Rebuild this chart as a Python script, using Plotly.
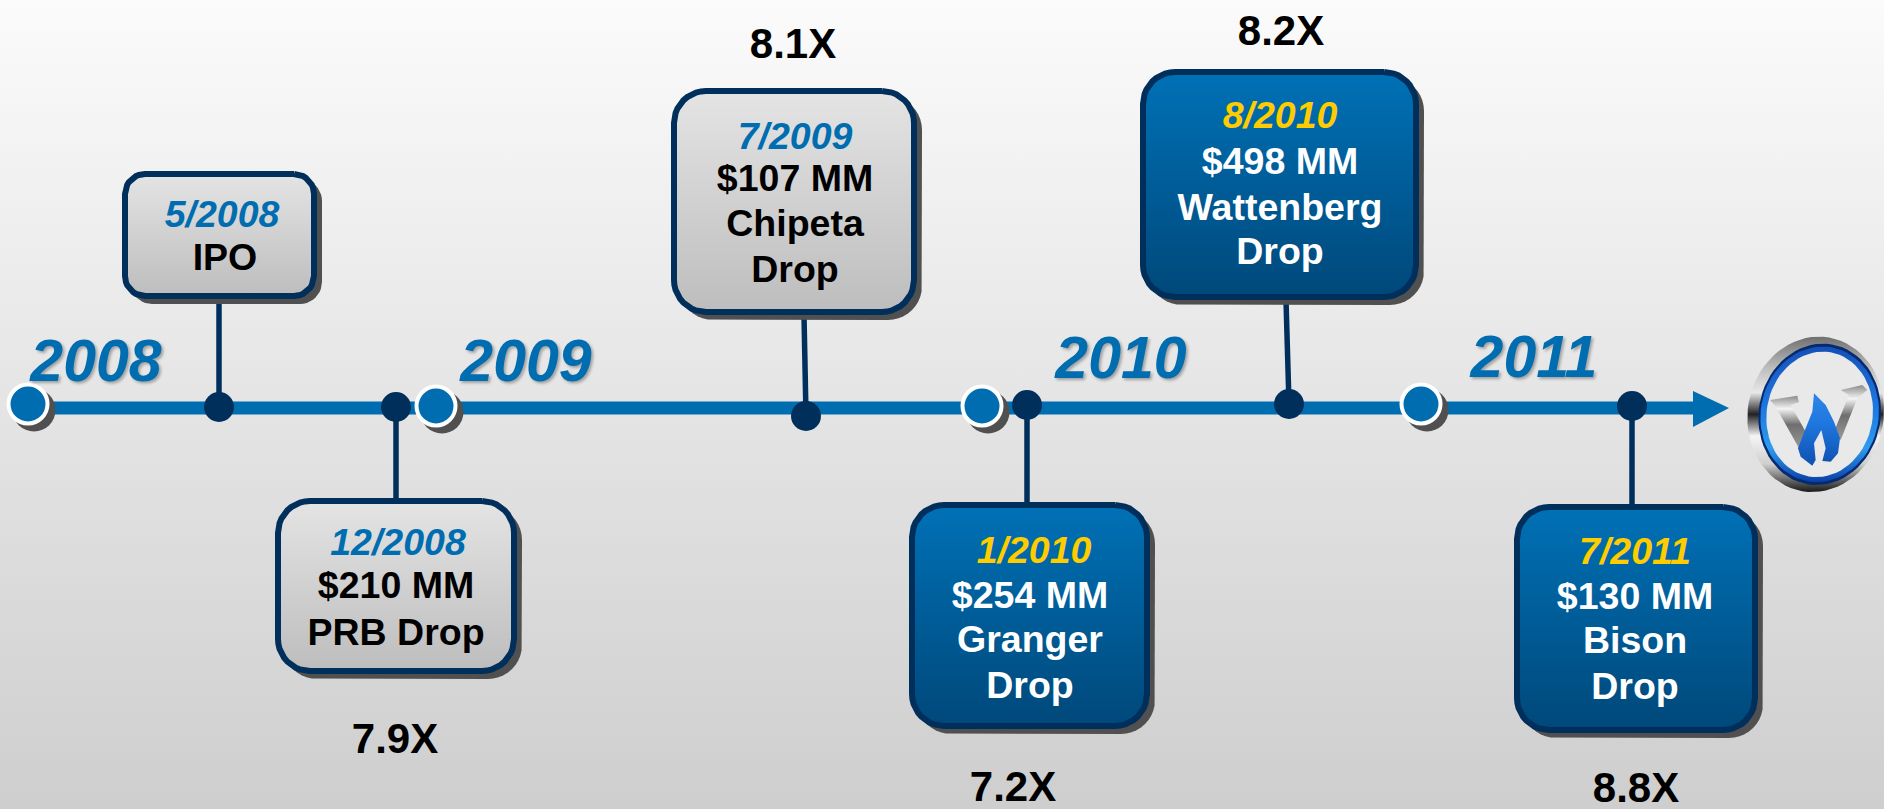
import math
import plotly.graph_objects as go

# ---- chart content ----
years = ["2008", "2009", "2010", "2011"]
dates = ["5/2008", "12/2008", "7/2009", "1/2010", "8/2010", "7/2011"]
amounts = [None, "$210 MM", "$107 MM", "$254 MM", "$498 MM", "$130 MM"]
names = [["IPO"], ["PRB Drop"], ["Chipeta", "Drop"], ["Granger", "Drop"], ["Wattenberg", "Drop"], ["Bison", "Drop"]]
multiples = [None, "7.9X", "8.1X", "7.2X", "8.2X", "8.8X"]
box_styles = ["gray", "gray", "gray", "blue", "blue", "blue"]

# ---- diagram layout (pixels of the 1884x809 page) ----
W, H = 1884, 809
year_xy = [(28, 404), (436, 406), (982, 406), (1421, 404)]
year_label_xy = [(96, 366), (526, 366), (1121, 363), (1534, 362)]
dot_xy = [(219, 407), (396, 407), (806, 416), (1027, 405), (1289, 404), (1632, 406)]
box_xyxy = [(122, 171, 317, 299), (275, 498, 517, 674), (671, 88, 917, 315),
            (909, 502, 1150, 729), (1140, 69, 1419, 300), (1514, 504, 1758, 733)]
stem_end = [(219, 299), (396, 499), (804, 315), (1027, 503), (1286, 300), (1632, 505)]
date_x = [222, 398, 795, 1034, 1280, 1635]
body_x = [225, 396, 795, 1030, 1280, 1635]
text_ys = [[218, 261], [546, 589, 636], [140, 182, 227, 273],
           [554, 599, 643, 689], [119, 165, 211, 255], [555, 600, 644, 690]]
multiple_xy = [None, (395, 742), (793, 47), (1013, 790), (1281, 34), (1636, 791)]

BLUE, NAVY, SHADOW, GOLD = "#006DB0", "#002F5C", "#505050", "#FFCC00"
FONT = "Liberation Sans"


def rounded(x0, y0, x1, y1, r=24, n=10):
    xs, ys = [], []
    corners = [(x1 - r, y0 + r, -90), (x1 - r, y1 - r, 0), (x0 + r, y1 - r, 90), (x0 + r, y0 + r, 180)]
    for cx, cy, a in corners:
        for i in range(n + 1):
            t = math.radians(a + 90 * i / n)
            xs.append(cx + r * math.cos(t))
            ys.append(cy + r * math.sin(t))
    return xs + xs[:1], ys + ys[:1]


def ellipse(cx, cy, rx, ry, tilt=0.0, n=72):
    xs, ys = [], []
    c, s = math.cos(math.radians(tilt)), math.sin(math.radians(tilt))
    for i in range(n + 1):
        t = 2 * math.pi * i / n
        px, py = rx * math.cos(t), ry * math.sin(t)
        xs.append(cx + px * c - py * s)
        ys.append(cy + px * s + py * c)
    return xs, ys


fig = go.Figure()


def poly(xs, ys, color=None, grad=None, line=None, lw=0, gtype="vertical"):
    kw = dict(x=xs, y=ys, mode="lines", fill="toself", hoverinfo="skip", showlegend=False,
              line=dict(color=line or "rgba(0,0,0,0)", width=lw))
    if grad:
        kw["fillgradient"] = dict(type=gtype, colorscale=grad)
    else:
        kw["fillcolor"] = color
    fig.add_trace(go.Scatter(**kw))


def text(xs, ys, labels, size, color, italic=False, shadow=None):
    fig.add_trace(go.Scatter(x=xs, y=ys, text=labels, mode="text", hoverinfo="skip", showlegend=False,
                             textposition="middle center", cliponaxis=False,
                             textfont=dict(family=FONT, size=size, color=color, weight="bold",
                                           style="italic" if italic else "normal",
                                           shadow=shadow or "none")))


# background
poly([0, W, W, 0, 0], [0, 0, H, H, 0], grad=[[0, "#CECECE"], [1, "#FBFBFB"]])

# main line and arrow
fig.add_trace(go.Scatter(x=[28, 1695], y=[408, 408], mode="lines", hoverinfo="skip", showlegend=False,
                         line=dict(color=BLUE, width=13)))
poly([1693, 1729, 1693, 1693], [391, 408, 427, 391], color=BLUE)

# stems
for (dx, dy), (sx, sy) in zip(dot_xy, stem_end):
    fig.add_trace(go.Scatter(x=[dx, sx], y=[dy, sy], mode="lines", hoverinfo="skip", showlegend=False,
                             line=dict(color=NAVY, width=5.5)))

# dots
fig.add_trace(go.Scatter(x=[p[0] for p in dot_xy], y=[p[1] for p in dot_xy], mode="markers",
                         hoverinfo="skip", showlegend=False, marker=dict(size=30, color=NAVY)))

# year markers
fig.add_trace(go.Scatter(x=[p[0] + 6 for p in year_xy], y=[p[1] + 6 for p in year_xy], mode="markers",
                         hoverinfo="skip", showlegend=False, marker=dict(size=43, color=SHADOW)))
fig.add_trace(go.Scatter(x=[p[0] for p in year_xy], y=[p[1] for p in year_xy], mode="markers",
                         hoverinfo="skip", showlegend=False,
                         marker=dict(size=39, color=BLUE, line=dict(color="white", width=4))))
text([p[0] for p in year_label_xy], [p[1] for p in year_label_xy], years, 59, BLUE, italic=True,
     shadow="2px 2px 3px rgba(0,0,0,0.3)")

# boxes
GRADS = {"gray": [[0, "#BDBDBD"], [1, "#E4E4E4"]], "blue": [[0, "#00487A"], [1, "#0071B6"]]}
for (x0, y0, x1, y1), st in zip(box_xyxy, box_styles):
    r = 20 if y1 - y0 < 150 else 32
    xs, ys = rounded(x0 + 8, y0 + 8, x1 + 5, y1 + 5, r=r + 2)
    poly(xs, ys, color=SHADOW)
    xs, ys = rounded(x0 + 3, y0 + 3, x1 - 3, y1 - 3, r=r)
    poly(xs, ys, grad=GRADS[st], line=NAVY, lw=6)

# box text
for i, d in enumerate(dates):
    body = ([amounts[i]] if amounts[i] else []) + names[i]
    ys = text_ys[i]
    is_blue = box_styles[i] == "blue"
    text([date_x[i]], [ys[0]], [d], 37.5, GOLD if is_blue else BLUE, italic=True)
    text([body_x[i]] * len(body), ys[1:], body, 37.5, "white" if is_blue else "black")

# multiples
mx = [p[0] for p in multiple_xy if p]
my = [p[1] for p in multiple_xy if p]
text(mx, my, [m for m in multiples if m], 42, "black")

# logo
zx = lambda v: [1734 + a / 3 for a in v]
zy = lambda v: [325 + a / 3 for a in v]
lx, ly = 1734 + 245 / 3, 325 + 268 / 3
xs, ys = ellipse(lx, ly, 68, 78, 10)
poly(xs, ys, grad=[[0, "#1A1A1A"], [0.18, "#CFCFCF"], [0.36, "#F5F5F5"], [0.5, "#222222"],
                   [0.64, "#E8E8E8"], [0.8, "#BDBDBD"], [1, "#6F6F6F"]])
xs, ys = ellipse(lx + 4, ly, 61, 71, 10)
poly(xs, ys, color="#062A70")
xs, ys = ellipse(lx + 4, ly, 59, 68, 10)
poly(xs, ys, grad=[[0, "#0A3FA8"], [0.25, "#2E9BEF"], [0.55, "#1E78E0"], [1, "#1450B8"]])
xs, ys = ellipse(lx + 4, ly, 53, 63, 10)
poly(xs, ys, color="#E9E9E9")
metal = [[0, "#9A9A9A"], [0.45, "#6E6E6E"], [0.75, "#F4F4F4"], [1, "#8A8A8A"]]
poly(zx([108, 190, 195, 170, 215, 195, 125, 108]), zy([225, 212, 232, 240, 320, 370, 245, 225]), grad=metal)
poly(zx([320, 385, 400, 370, 320, 300, 345, 320]), zy([195, 180, 195, 220, 345, 320, 210, 195]), grad=metal)
poly(zx([240, 275, 300, 318, 312, 290, 265, 275, 262, 240, 245, 235, 200, 192, 215, 235, 240]),
     zy([205, 240, 290, 340, 385, 410, 408, 370, 315, 355, 405, 422, 395, 370, 310, 260, 205]),
     grad=[[0, "#0F50B0"], [0.6, "#1F78E0"], [1, "#2F86E8"]])

fig.update_layout(
    width=W, height=H, margin=dict(l=0, r=0, t=0, b=0),
    paper_bgcolor="white", plot_bgcolor="white", showlegend=False,
    xaxis=dict(range=[0, W], visible=False, fixedrange=True),
    yaxis=dict(range=[H, 0], visible=False, fixedrange=True),
)
fig.write_html("out.html", post_script="document.body.style.margin='0';",
               config=dict(displayModeBar=False))
